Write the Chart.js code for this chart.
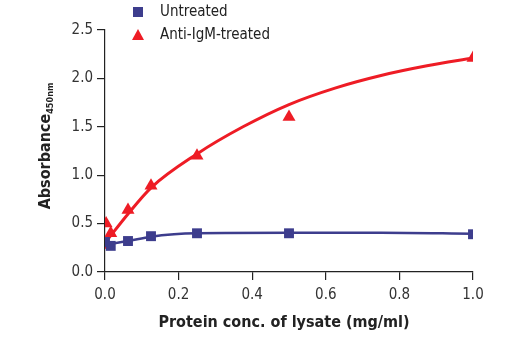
<!DOCTYPE html>
<html>
<head>
<meta charset="utf-8">
<script src="https://cdn.jsdelivr.net/npm/chart.js@4"></script>
<style>
  html, body { margin: 0; padding: 0; background: #fff; }
  #wrap { width: 520px; height: 350px; }
</style>
</head>
<body>
<div id="wrap"><canvas id="chart" width="520" height="350"></canvas></div>
<script>
'use strict';

// measured points
let untreatedX = [0, 0.0156, 0.0625, 0.125, 0.25, 0.5, 1.0];
let untreatedY = [0.31, 0.27, 0.32, 0.37, 0.40, 0.40, 0.39];
let treatedX = [0, 0.003, 0.0156, 0.0625, 0.125, 0.25, 0.5, 1.0];
let treatedY = [0.28, 0.50, 0.40, 0.64, 0.89, 1.20, 1.60, 2.21];

// fitted curves
let untreatedFitX = [0, 0.0625, 0.125, 0.1875, 0.25, 0.5, 0.75, 1.0];
let untreatedFitY = [0.28, 0.32, 0.365, 0.39, 0.40, 0.405, 0.405, 0.395];
let treatedFitX = [0, 0.0625, 0.125, 0.25, 0.375, 0.5, 0.625, 0.75, 0.875, 1.0];
let treatedFitY = [0.30, 0.60, 0.87, 1.22, 1.50, 1.73, 1.90, 2.03, 2.13, 2.21];

let xTicks = [0, 0.2, 0.4, 0.6, 0.8, 1.0];
let yTicks = [0, 0.5, 1.0, 1.5, 2.0, 2.5];

let seriesNames = ['Untreated', 'Anti-IgM-treated'];

const NAVY = '#3d3d8d';
const RED = '#ee1c25';
const FONT = "'DejaVu Sans Condensed', 'Liberation Sans', sans-serif";

function toPoints(xs, ys) {
  return xs.map((x, i) => ({ x: x, y: ys[i] }));
}

// legend + axis titles drawn by hand so they sit like the original
const decorations = {
  id: 'decorations',
  afterDraw(chart) {
    const ctx = chart.ctx;
    ctx.save();

    // legend
    ctx.font = '15px ' + FONT;
    ctx.textBaseline = 'middle';
    ctx.fillStyle = NAVY;
    ctx.fillRect(133, 7, 10, 10);
    ctx.fillStyle = RED;
    ctx.beginPath();
    ctx.moveTo(138, 29);
    ctx.lineTo(144, 40);
    ctx.lineTo(132, 40);
    ctx.closePath();
    ctx.fill();
    ctx.fillStyle = '#222';
    ctx.fillText(seriesNames[0], 160, 12);
    ctx.fillText(seriesNames[1], 160, 35);

    // x title
    ctx.font = 'bold 16px ' + FONT;
    ctx.textAlign = 'center';
    ctx.fillText('Protein conc. of lysate (mg/ml)', 284, 323);

    // y title with subscript
    ctx.translate(50, 146);
    ctx.rotate(-Math.PI / 2);
    ctx.textBaseline = 'alphabetic';
    ctx.textAlign = 'left';
    const main = 'Absorbance';
    const sub = '450nm';
    ctx.font = 'bold 16px ' + FONT;
    const w1 = ctx.measureText(main).width;
    ctx.font = 'bold 9px ' + FONT;
    const w2 = ctx.measureText(sub).width;
    const start = -(w1 + w2) / 2;
    ctx.font = 'bold 16px ' + FONT;
    ctx.fillText(main, start, 0);
    ctx.font = 'bold 9px ' + FONT;
    ctx.fillText(sub, start + w1, 3);
    ctx.restore();
  }
};

function renderChart() {
  let canvasElem = document.getElementById('chart');

  let chartDatasets = [
    {
      label: seriesNames[0],
      data: toPoints(untreatedX, untreatedY),
      showLine: false,
      pointStyle: 'rect',
      pointRadius: 7,
      pointHoverRadius: 7,
      backgroundColor: NAVY,
      borderColor: NAVY,
      borderWidth: 0,
      order: 0
    },
    {
      label: seriesNames[1],
      data: toPoints(treatedX, treatedY),
      showLine: false,
      pointStyle: 'triangle',
      pointRadius: 7.5,
      pointHoverRadius: 7.5,
      backgroundColor: RED,
      borderColor: RED,
      borderWidth: 0,
      order: 0
    },
    {
      label: 'untreated fit',
      data: toPoints(untreatedFitX, untreatedFitY),
      showLine: true,
      pointRadius: 0,
      borderColor: NAVY,
      borderWidth: 2.5,
      cubicInterpolationMode: 'monotone',
      order: 1
    },
    {
      label: 'treated fit',
      data: toPoints(treatedFitX, treatedFitY),
      showLine: true,
      pointRadius: 0,
      borderColor: RED,
      borderWidth: 3,
      cubicInterpolationMode: 'monotone',
      order: 1
    }
  ];

  let tickFont = { family: FONT, size: 15 };

  let chartOptions = {
    responsive: false,
    animation: false,
    events: [],
    layout: { padding: { top: 30, right: 47, left: 0, bottom: 0 } },
    plugins: {
      legend: { display: false },
      tooltip: { enabled: false }
    },
    scales: {
      x: {
        type: 'linear',
        min: 0,
        max: 1,
        afterFit: (scale) => { scale.height = 78; },
        afterBuildTicks: (scale) => { scale.ticks = xTicks.map(v => ({ value: v })); },
        ticks: {
          color: '#333',
          font: tickFont,
          padding: 6,
          maxRotation: 0,
          callback: (v) => v.toFixed(1)
        },
        grid: { drawOnChartArea: false, drawTicks: true, tickLength: 8, color: '#222', lineWidth: 1.2 },
        border: { display: true, color: '#222', width: 1.2 }
      },
      y: {
        min: 0,
        max: 2.5,
        afterFit: (scale) => { scale.width = 105; },
        afterBuildTicks: (scale) => { scale.ticks = yTicks.map(v => ({ value: v })); },
        ticks: {
          color: '#333',
          font: tickFont,
          padding: 4,
          callback: (v) => v.toFixed(1)
        },
        grid: { drawOnChartArea: false, drawTicks: true, tickLength: 8, color: '#222', lineWidth: 1.2 },
        border: { display: true, color: '#222', width: 1.2 }
      }
    }
  };

  let chartConfig = {
    type: 'scatter',
    data: { datasets: chartDatasets },
    options: chartOptions,
    plugins: [decorations]
  };

  new Chart(canvasElem, chartConfig);
}

renderChart();
</script>
</body>
</html>
